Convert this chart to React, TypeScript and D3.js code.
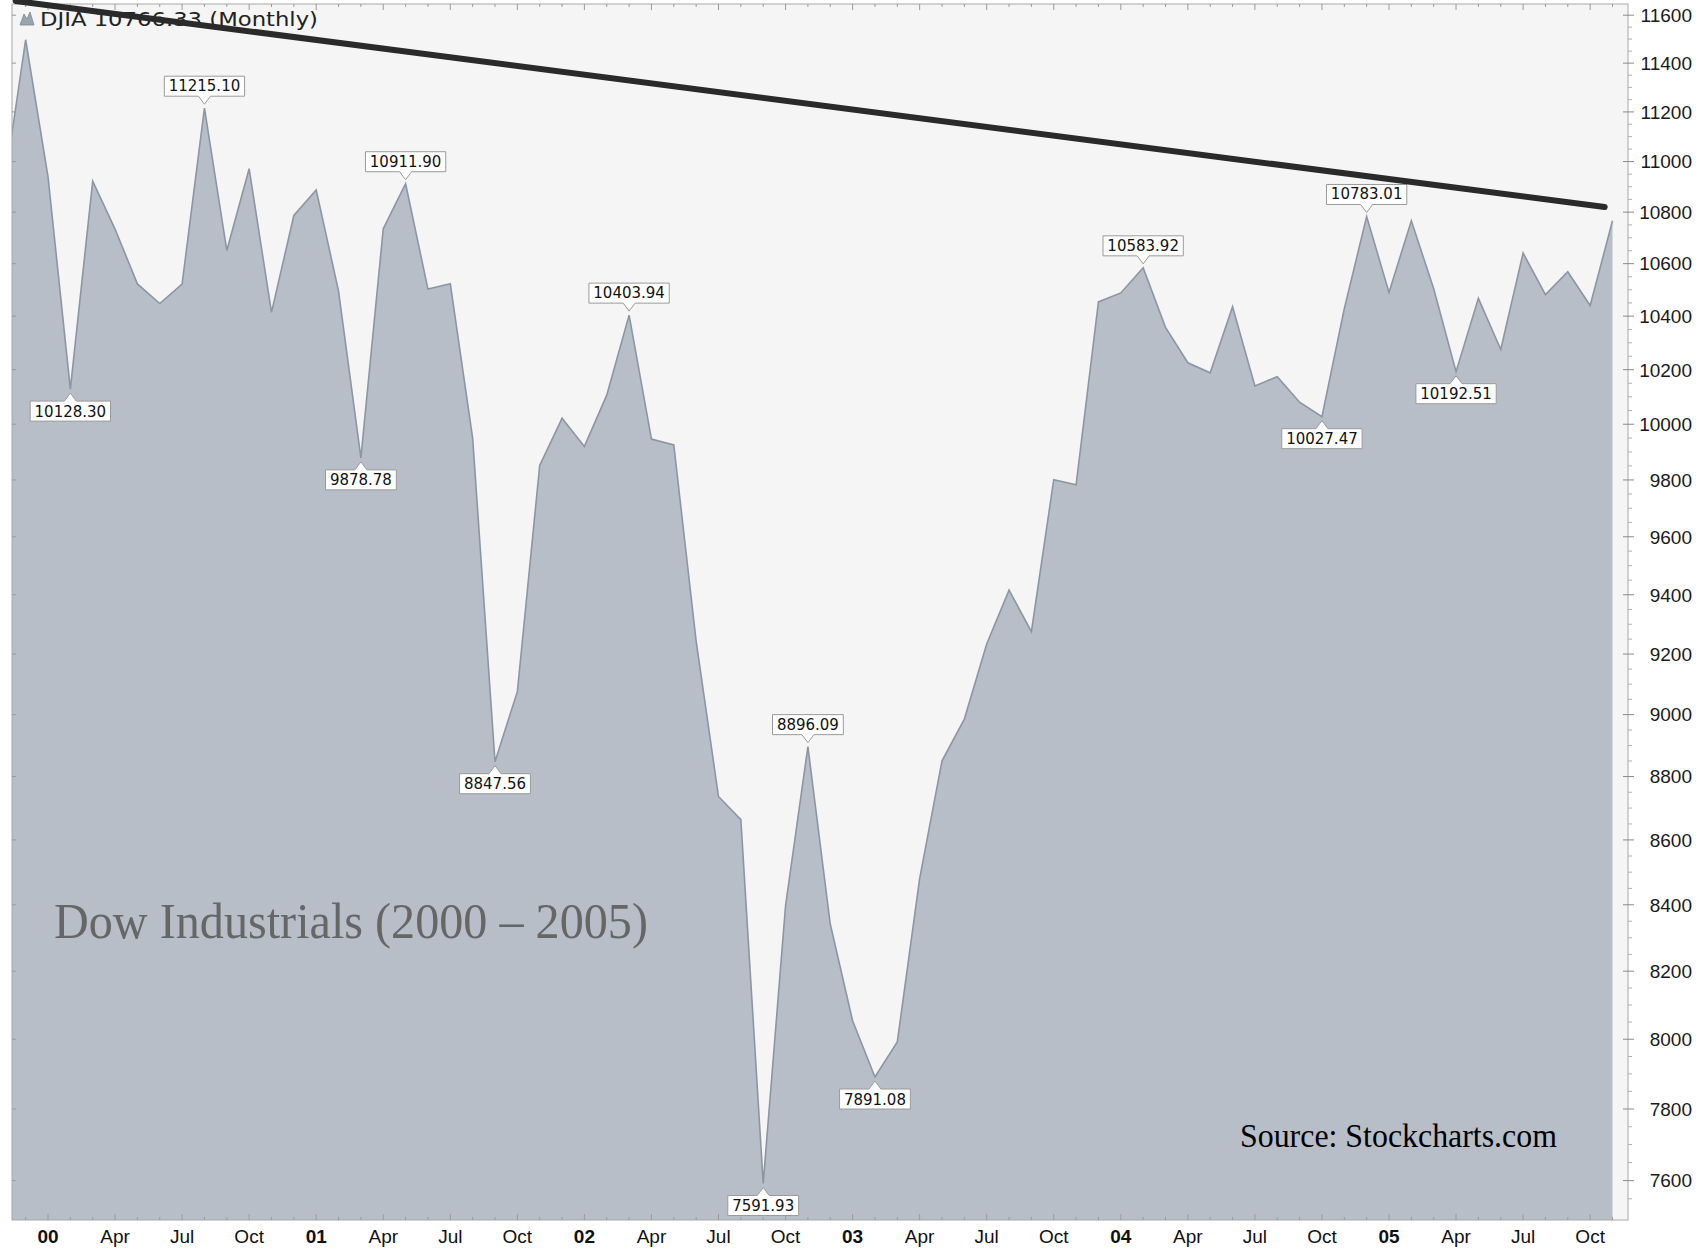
import * as d3 from 'd3';
import { useEffect } from 'react';

// monthly closes, DJIA, Nov 1999 .. Nov 2005 (last month partial)
const months = [
    '1999-11', '1999-12',
    '2000-01', '2000-02', '2000-03', '2000-04', '2000-05', '2000-06', '2000-07', '2000-08', '2000-09', '2000-10', '2000-11', '2000-12',
    '2001-01', '2001-02', '2001-03', '2001-04', '2001-05', '2001-06', '2001-07', '2001-08', '2001-09', '2001-10', '2001-11', '2001-12',
    '2002-01', '2002-02', '2002-03', '2002-04', '2002-05', '2002-06', '2002-07', '2002-08', '2002-09', '2002-10', '2002-11', '2002-12',
    '2003-01', '2003-02', '2003-03', '2003-04', '2003-05', '2003-06', '2003-07', '2003-08', '2003-09', '2003-10', '2003-11', '2003-12',
    '2004-01', '2004-02', '2004-03', '2004-04', '2004-05', '2004-06', '2004-07', '2004-08', '2004-09', '2004-10', '2004-11', '2004-12',
    '2005-01', '2005-02', '2005-03', '2005-04', '2005-05', '2005-06', '2005-07', '2005-08', '2005-09', '2005-10', '2005-11',
];
const closes = [
    10877.81, 11497.12,
    10940.53, 10128.31, 10921.92, 10733.91, 10522.33, 10447.89, 10521.98, 11215.1, 10650.92, 10971.14, 10414.49, 10786.85,
    10887.36, 10495.28, 9878.78, 10734.97, 10911.94, 10502.4, 10522.81, 9949.75, 8847.56, 9075.14, 9851.56, 10021.5,
    9920.0, 10106.13, 10403.94, 9946.22, 9925.25, 9243.26, 8736.59, 8663.5, 7591.93, 8397.03, 8896.09, 8341.63,
    8053.81, 7891.08, 7992.13, 8480.09, 8850.26, 8985.44, 9233.8, 9415.82, 9275.06, 9801.12, 9782.46, 10453.92,
    10488.07, 10583.92, 10357.7, 10225.57, 10188.45, 10435.48, 10139.71, 10173.92, 10080.27, 10027.47, 10428.02, 10783.01,
    10489.94, 10766.23, 10503.76, 10192.51, 10467.48, 10274.97, 10640.91, 10481.6, 10568.7, 10440.07, 10766.33,
];

// boxed value call-outs
const labelMonths = ['2000-02', '2000-08', '2001-03', '2001-05', '2001-09', '2002-03', '2002-09', '2002-11', '2003-02', '2004-02', '2004-10', '2004-12', '2005-04'];
const labelTexts = ['10128.30', '11215.10', '9878.78', '10911.90', '8847.56', '10403.94', '7591.93', '8896.09', '7891.08', '10583.92', '10027.47', '10783.01', '10192.51'];
const labelSides = ['below', 'above', 'below', 'above', 'below', 'above', 'below', 'above', 'below', 'above', 'below', 'above', 'below'];

const yTicks = [7600, 7800, 8000, 8200, 8400, 8600, 8800, 9000, 9200, 9400, 9600, 9800, 10000, 10200, 10400, 10600, 10800, 11000, 11200, 11400, 11600];
const monthNames = ['Jan', 'Feb', 'Mar', 'Apr', 'May', 'Jun', 'Jul', 'Aug', 'Sep', 'Oct', 'Nov', 'Dec'];

// resistance line, drawn by hand on the original (month offset from Jan 2000, level)
const trendT = [-1.45, 69.65];
const trendV = [11660, 10820];

const W = 1703;
const H = 1253;
const plot = { left: 12, top: 4, right: 1628, bottom: 1220 };

const monthIndex = (m: string) => {
    const [yy, mm] = m.split('-').map(Number);
    return (yy - 2000) * 12 + (mm - 1);
};

const x = d3.scaleLinear().domain([0, 60]).range([48, 1389]);
const y = d3.scaleLog().domain([7600, 11600]).range([1180.6, 15.2]);

const series = months.map((m, i) => ({ t: monthIndex(m), v: closes[i] }));

const area = d3
    .area<{ t: number; v: number }>()
    .x((d) => x(d.t))
    .y0(plot.bottom)
    .y1((d) => y(d.v));
const line = d3
    .line<{ t: number; v: number }>()
    .x((d) => x(d.t))
    .y((d) => y(d.v));

const labelWidth = (s: string) => {
    let w = 0;
    for (const c of s) w += c === '.' ? 4.8 : 9.5;
    return w + 9;
};

const calloutPath = (cx: number, py: number, w: number, side: string) => {
    const h = 20;
    const x0 = cx - w / 2;
    const x1 = cx + w / 2;
    if (side === 'above') {
        const yb = py - 12;
        const yt = yb - h;
        return `M${x0},${yt}H${x1}V${yb}H${cx + 6}L${cx},${py - 4}L${cx - 6},${yb}H${x0}Z`;
    }
    const yt = py + 12;
    const yb = yt + h;
    return `M${x0},${yt}H${cx - 6}L${cx},${py + 4}L${cx + 6},${yt}H${x1}V${yb}H${x0}Z`;
};

export default function App() {
    useEffect(() => {
        document.body.style.margin = '0';
    }, []);

    const monthTicks = d3.range(-1, 71);
    const minorY = d3.range(7550, 11650, 50).filter((v) => v % 200 !== 0);
    const tx0 = x(trendT[0]);
    const tx1 = x(trendT[1]);

    return (
        <svg width={W} height={H} style={{ position: 'absolute', left: 0, top: 0, background: '#fff' }}>
            <defs>
                <clipPath id="plotClip">
                    <rect x={plot.left} y={plot.top} width={plot.right - plot.left} height={plot.bottom - plot.top} />
                </clipPath>
            </defs>
            <rect x={plot.left} y={plot.top} width={plot.right - plot.left} height={plot.bottom - plot.top} fill="#f5f5f5" />
            <g clipPath="url(#plotClip)">
                <path d={area(series) || ''} fill="#b7bec8" />
                <path d={line(series) || ''} fill="none" stroke="#8c96a3" strokeWidth={1.6} />
            </g>

            {/* frame */}
            <rect x={plot.left} y={plot.top} width={plot.right - plot.left} height={plot.bottom - plot.top} fill="none" stroke="#a8a8a8" strokeWidth={1} />

            {/* month ticks top and bottom */}
            {monthTicks.map((t) => {
                const xx = x(t);
                if (xx < plot.left || xx > plot.right) return null;
                const major = ((t % 3) + 3) % 3 === 0;
                const len = major ? 6 : 3;
                return (
                    <g key={'mt' + t} stroke="#9a9a9a" strokeWidth={1}>
                        <line x1={xx} x2={xx} y1={plot.top} y2={plot.top + len} />
                        <line x1={xx} x2={xx} y1={plot.bottom} y2={plot.bottom - len} />
                    </g>
                );
            })}

            {/* left inner ticks */}
            {yTicks.map((v) => (
                <line key={'lt' + v} x1={plot.left} x2={plot.left + 4} y1={y(v)} y2={y(v)} stroke="#9a9a9a" />
            ))}

            {/* right axis */}
            {minorY.map((v) => (
                <line key={'my' + v} x1={plot.right} x2={plot.right + 4} y1={y(v)} y2={y(v)} stroke="#b0b0b0" />
            ))}
            {yTicks.map((v) => (
                <g key={'yt' + v}>
                    <line x1={plot.right - 5} x2={plot.right + 6} y1={y(v)} y2={y(v)} stroke="#8a8a8a" />
                    <text
                        x={1692}
                        y={y(v)}
                        dy="0.36em"
                        textAnchor="end"
                        fontFamily="'Liberation Sans', Arial, sans-serif"
                        fontSize={19}
                        fill="#1a1a1a"
                    >
                        {v}
                    </text>
                </g>
            ))}

            {/* x labels */}
            {d3.range(0, 70, 3).map((t) => {
                const mo = t % 12;
                const isYear = mo === 0;
                const label = isYear ? String(t / 12).padStart(2, '0') : monthNames[mo];
                return (
                    <text
                        key={'xl' + t}
                        x={x(t)}
                        y={1243}
                        textAnchor="middle"
                        fontFamily="'Liberation Sans', Arial, sans-serif"
                        fontSize={19}
                        fontWeight={isYear ? 'bold' : 'normal'}
                        fill="#111"
                    >
                        {label}
                    </text>
                );
            })}

            {/* call-outs */}
            {labelMonths.map((m, i) => {
                const t = monthIndex(m);
                const v = closes[months.indexOf(m)];
                const cx = x(t);
                const py = y(v);
                const w = labelWidth(labelTexts[i]);
                const side = labelSides[i];
                const ty = side === 'above' ? py - 12 - 5 : py + 12 + 15.5;
                return (
                    <g key={'lb' + m}>
                        <path d={calloutPath(cx, py, w, side)} fill="#ffffff" stroke="#9a9a9a" strokeWidth={1} />
                        <text
                            x={cx}
                            y={ty}
                            textAnchor="middle"
                            fontFamily="'DejaVu Sans', Verdana, sans-serif"
                            fontSize={15}
                            fill="#111"
                        >
                            {labelTexts[i]}
                        </text>
                    </g>
                );
            })}

            {/* legend */}
            <path d="M20,25 L24,14 L27,19 L30,12 L34,25 Z" fill="#9aa3ae" stroke="#7d8793" strokeWidth={0.8} />
            <text x={40} y={26} fontFamily="'DejaVu Sans', Verdana, sans-serif" fontSize={20} fill="#222" textLength={278} lengthAdjust="spacingAndGlyphs">
                DJIA 10766.33 (Monthly)
            </text>

            {/* overlaid notes */}
            <text x={54} y={938} fontFamily="'Liberation Serif', 'Times New Roman', serif" fontSize={50} fill="#666" textLength={594} lengthAdjust="spacingAndGlyphs">
                Dow Industrials (2000 – 2005)
            </text>
            <text x={1240} y={1147} fontFamily="'Liberation Serif', 'Times New Roman', serif" fontSize={33} fill="#000" textLength={317} lengthAdjust="spacingAndGlyphs">
                Source: Stockcharts.com
            </text>

            {/* trend line */}
            <line
                x1={tx0}
                y1={y(trendV[0])}
                x2={tx1}
                y2={y(trendV[1])}
                stroke="#2a2a2a"
                strokeWidth={6}
                strokeLinecap="round"
            />
        </svg>
    );
}
